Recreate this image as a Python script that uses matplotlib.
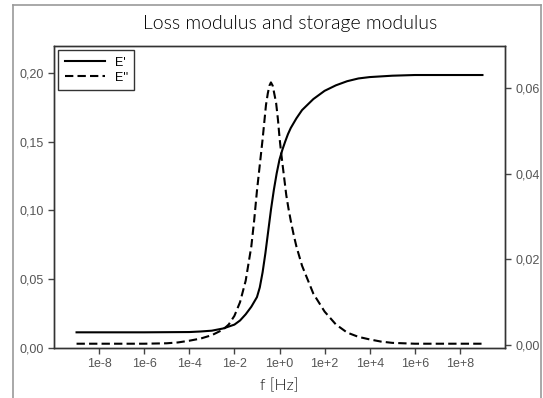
import numpy as np
import matplotlib
matplotlib.use("Agg")
import matplotlib.pyplot as plt
from matplotlib.lines import Line2D
from matplotlib.ticker import NullLocator, FixedLocator, FixedFormatter

# log10 of frequency
logf_storage = [-9, -6, -4, -3.5, -3, -2.5, -2, -1.75, -1.5, -1.25, -1, -0.875, -0.75,
                -0.625, -0.5, -0.375, -0.25, -0.125, 0, 0.125, 0.25, 0.375, 0.5, 0.75,
                1, 1.5, 2, 2.5, 3, 3.5, 4, 5, 6, 9]
storage = [0.0114, 0.0114, 0.0116, 0.0120, 0.0126, 0.0142, 0.0170, 0.0200, 0.0245,
           0.0300, 0.0370, 0.0440, 0.0550, 0.0690, 0.0850, 0.1010, 0.1150, 0.1270,
           0.1370, 0.1440, 0.1500, 0.1555, 0.1600, 0.1670, 0.1730, 0.1810, 0.1870,
           0.1910, 0.1940, 0.1960, 0.1970, 0.1980, 0.1985, 0.1985]

logf_loss = [-9, -6, -5, -4.5, -4, -3.5, -3, -2.5, -2.25, -2, -1.75, -1.5, -1.25, -1.125,
             -1, -0.875, -0.75, -0.6, -0.52, -0.45, -0.38, -0.3, -0.15, -0.07, 0, 0.07,
             0.15, 0.3, 0.4, 0.5, 0.625, 0.75, 1, 1.5, 2, 2.5, 3, 3.5, 4, 4.5, 5, 6, 9]
loss = [0.0003, 0.0003, 0.0004, 0.0006, 0.0010, 0.0015, 0.0023, 0.0036, 0.0048, 0.0068,
        0.0100, 0.0150, 0.0230, 0.0290, 0.0360, 0.0420, 0.0480, 0.0560, 0.0587, 0.0605,
        0.0613, 0.0605, 0.0565, 0.0527, 0.0485, 0.0450, 0.0415, 0.0350, 0.0318, 0.0290,
        0.0258, 0.0230, 0.0185, 0.0120, 0.0078, 0.0048, 0.0029, 0.0019, 0.0013, 0.0008,
        0.0005, 0.0003, 0.0003]

xtick_exp = [-8, -6, -4, -2, 0, 2, 4, 6, 8]
xtick_labels = ["1e-8", "1e-6", "1e-4", "1e-2", "1e+0", "1e+2", "1e+4", "1e+6", "1e+8"]
left_ticks = [0.00, 0.05, 0.10, 0.15, 0.20]
left_labels = ["0,00", "0,05", "0,10", "0,15", "0,20"]
right_ticks = [0.00, 0.02, 0.04, 0.06]
right_labels = ["0,00", "0,02", "0,04", "0,06"]

W, H = 543, 398
fig = plt.figure(figsize=(W / 100, H / 100), dpi=100)

# grey outer frame (no bottom line)
frame_col = "#9a9a9a"
fig.add_artist(Line2D([13 / W, 13 / W], [0, 1 - 5 / H], color=frame_col, lw=1.2))
fig.add_artist(Line2D([13 / W, 541 / W], [1 - 5 / H, 1 - 5 / H], color=frame_col, lw=1.2))
fig.add_artist(Line2D([541 / W, 541 / W], [0, 1 - 5 / H], color=frame_col, lw=1.2))

ax = fig.add_axes([54 / W, 1 - 348 / H, (505 - 54) / W, (348 - 46) / H])
ax2 = ax.twinx()

f_storage = 10.0 ** np.array(logf_storage)
f_loss = 10.0 ** np.array(logf_loss)
l1, = ax.plot(f_storage, storage, color="black", lw=1.5)
l2, = ax2.plot(f_loss, loss, color="black", lw=1.5, linestyle=(0, (4, 2)))

ax.set_xscale("log")
ax.set_xlim(1e-10, 1e10)
ax.set_ylim(0, 0.2196)
ax2.set_ylim(-0.0007, 0.0698)

ax.xaxis.set_major_locator(FixedLocator([10.0 ** e for e in xtick_exp]))
ax.xaxis.set_major_formatter(FixedFormatter(xtick_labels))
ax.xaxis.set_minor_locator(NullLocator())
ax.set_yticks(left_ticks)
ax.set_yticklabels(left_labels)
ax2.set_yticks(right_ticks)
ax2.set_yticklabels(right_labels)

tick_col = "#444444"
for a in (ax, ax2):
    a.tick_params(direction="out", length=4, width=1, colors=tick_col,
                  labelsize=9, labelcolor="#555555")
    for sp in a.spines.values():
        sp.set_color("#333333")
        sp.set_linewidth(1)
for lab in ax.get_xticklabels() + ax.get_yticklabels() + ax2.get_yticklabels():
    lab.set_family("Liberation Sans")

ax.set_xlabel("f [Hz]", fontsize=11.5, family="Lato", fontweight=300, color="#111111",
              labelpad=6)
fig.text(0.535, 1 - 23 / H, "Loss modulus and storage modulus", ha="center", va="center",
         fontsize=14, family="Lato", fontweight=300, color="#000000")

leg = ax.legend([l1, l2], ["E'", "E''"], loc="upper left", frameon=True, fancybox=False,
                edgecolor="black", borderaxespad=0.35, handlelength=3.2, borderpad=0.5,
                labelspacing=0.25, prop={"family": "Liberation Sans", "size": 9})
leg.get_frame().set_linewidth(1)

fig.savefig("out.png", dpi=100)
